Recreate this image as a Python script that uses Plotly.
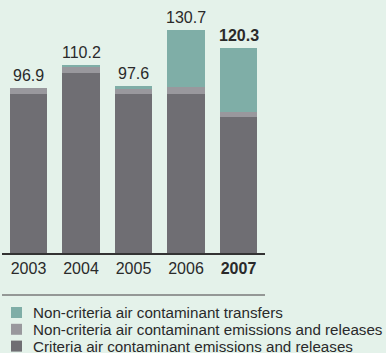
import plotly.graph_objects as go

years = ["2003", "2004", "2005", "2006", "2007"]
year_labels = ["2003", "2004", "2005", "2006", "<b>2007</b>"]
criteria = [93.3, 105.4, 93.2, 93.2, 79.7]
noncriteria = [3.6, 4.2, 3.5, 3.9, 2.9]
transfers = [0.0, 0.6, 0.9, 33.6, 37.7]
totals = [96.9, 110.2, 97.6, 130.7, 120.3]
total_labels = ["96.9", "110.2", "97.6", "130.7", "<b>120.3</b>"]
series_names = [
    "Non-criteria air contaminant transfers",
    "Non-criteria air contaminant emissions and releases",
    "Criteria air contaminant emissions and releases",
]
colors = {"crit": "#6f6e73", "noncrit": "#99989d", "trans": "#7faea7"}

W, H = 386, 353
BG = "#e4f2ea"
FONT = "Liberation Sans, Arial, sans-serif"
TXT = "#2a2a2a"

xpos = list(range(len(years)))

fig = go.Figure()
for vals, key, name in [(criteria, "crit", series_names[2]),
                        (noncriteria, "noncrit", series_names[1]),
                        (transfers, "trans", series_names[0])]:
    fig.add_trace(go.Bar(x=xpos, y=vals, name=name, marker_color=colors[key],
                         marker_line_width=0, width=0.705, showlegend=False))

for x, t, lab in zip(xpos, totals, total_labels):
    fig.add_annotation(x=x, y=t, text=lab, showarrow=False, yanchor="bottom",
                       yshift=2, font=dict(family=FONT, size=16, color=TXT))

def px(x):
    return x / W

def py(y):
    return 1 - y / H

shapes = [dict(type="line", xref="paper", yref="paper", x0=px(2), x1=px(265),
               y0=py(295), y1=py(295), line=dict(color="#7a7a7a", width=1.5))]
leg_colors = [colors["trans"], colors["noncrit"], colors["crit"]]
for i, (name, c) in enumerate(zip(series_names, leg_colors)):
    top = 307 + i * 16.8
    shapes.append(dict(type="rect", xref="paper", yref="paper", x0=px(11), x1=px(22),
                       y0=py(top + 11), y1=py(top), fillcolor=c, line_width=0))
    fig.add_annotation(xref="paper", yref="paper", x=px(31), y=py(top + 5.5),
                       text=name, showarrow=False, xanchor="left", yanchor="middle",
                       font=dict(family=FONT, size=15.2, color=TXT))

fig.update_layout(
    width=W, height=H, margin=dict(l=0, r=0, t=0, b=0),
    paper_bgcolor=BG, plot_bgcolor=BG, barmode="stack", shapes=shapes,
    xaxis=dict(domain=[px(2.25), px(264.75)], range=[-0.5, len(years) - 0.5],
               tickvals=xpos, ticktext=year_labels, showline=True,
               linecolor="#333333", linewidth=1.5, ticks="",
               tickfont=dict(family=FONT, size=16, color=TXT), showgrid=False,
               zeroline=False),
    yaxis=dict(domain=[py(253), 1], range=[0, 148.3], visible=False, showgrid=False),
)
fig.write_html("out.html")
